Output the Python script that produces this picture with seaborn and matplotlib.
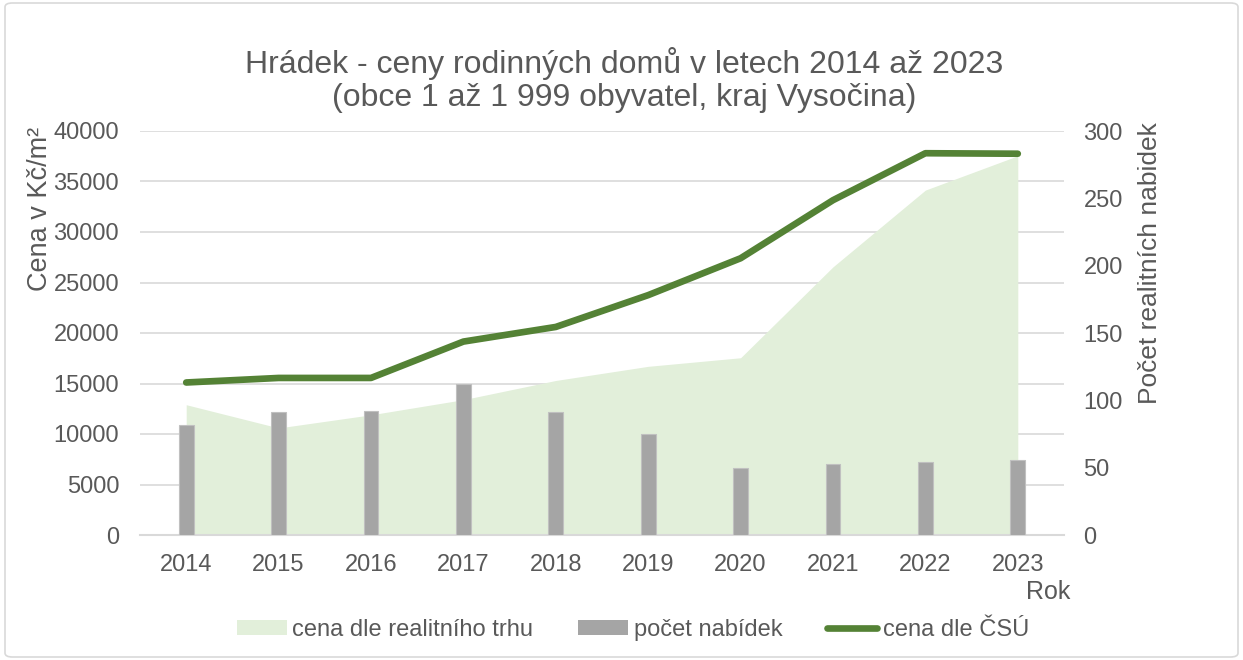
import matplotlib
matplotlib.use("Agg")
import matplotlib.pyplot as plt
from matplotlib.patches import Patch, FancyBboxPatch
from matplotlib.lines import Line2D
import seaborn as sns
import pandas as pd

years = [2014, 2015, 2016, 2017, 2018, 2019, 2020, 2021, 2022, 2023]
cena_trh = [12900, 10600, 11900, 13400, 15300, 16700, 17550, 26550, 34150, 37550]
cena_csu = [15100, 15550, 15550, 19150, 20600, 23750, 27400, 33150, 37800, 37750]
pocet_nabidek = [82, 91, 92, 112, 91, 75, 50, 53, 54, 56]

left_ticks = [0, 5000, 10000, 15000, 20000, 25000, 30000, 35000, 40000]
right_ticks = [0, 50, 100, 150, 200, 250, 300]

df = pd.DataFrame({"rok": years, "trh": cena_trh, "csu": cena_csu, "pocet": pocet_nabidek})

sns.set_theme(style="white")
plt.rcParams["font.family"] = ["Liberation Sans", "DejaVu Sans"]

TXT = "#595959"
AREA = "#e2efda"
BAR = "#a5a5a5"
LINE = "#548235"
GRID = "#d9d9d9"
TICK_FS = 17

fig = plt.figure(figsize=(12.43, 6.6), dpi=100)
ax = fig.add_axes([140 / 1243, 1 - 535 / 660, (1064 - 140) / 1243, (535 - 131) / 660])
ax_bar = ax.twinx()
ax_line = ax.twinx()

# area: market price (left scale)
ax.fill_between(df["rok"], df["trh"], 0, color=AREA, lw=0, zorder=2)
ax.set_ylim(0, 40000)
ax.set_xlim(2013.5, 2023.5)
ax.set_yticks(left_ticks)
ax.set_xticks(years)
ax.grid(axis="y", color=GRID, lw=1.2, zorder=0)
ax.set_axisbelow(True)
for s in ["top", "right", "left"]:
    ax.spines[s].set_visible(False)
ax.spines["bottom"].set_color(GRID)
ax.spines["bottom"].set_linewidth(1.5)
ax.tick_params(axis="y", length=0, pad=15, labelsize=TICK_FS, labelcolor=TXT)
ax.tick_params(axis="x", length=0, pad=14, labelsize=TICK_FS, labelcolor=TXT)
ax.set_xlabel("")
ax.set_ylabel("")

# bars: number of offers (right scale)
sns.barplot(data=df, x="rok", y="pocet", native_scale=True, width=0.16, color=BAR,
            saturation=1, edgecolor="#c0c0c0", linewidth=0.8, ax=ax_bar)
ax_bar.set_ylim(0, 300)
ax_bar.set_yticks(right_ticks)
ax_bar.tick_params(axis="y", length=0, pad=14, labelsize=TICK_FS, labelcolor=TXT)
ax_bar.set_xlim(2013.5, 2023.5)
ax_bar.set_xlabel("")
ax_bar.set_ylabel("")
for s in ax_bar.spines.values():
    s.set_visible(False)

# line: ČSÚ price (left scale)
sns.lineplot(data=df, x="rok", y="csu", color=LINE, lw=4.8, ax=ax_line,
             solid_capstyle="round", solid_joinstyle="round")
ax_line.set_ylim(0, 40000)
ax_line.set_xlim(2013.5, 2023.5)
ax_line.set_yticks([])
ax_line.set_xlabel("")
ax_line.set_ylabel("")
for s in ax_line.spines.values():
    s.set_visible(False)

fig.text(624 / 1243, 1 - 80 / 660,
         "Hrádek - ceny rodinných domů v letech 2014 až 2023\n(obce 1 až 1 999 obyvatel, kraj Vysočina)",
         ha="center", va="center", fontsize=23, color=TXT, linespacing=1.1)
fig.text(40 / 1243, 1 - 127 / 660, "Cena v Kč/m²", rotation=90, ha="center", va="top",
         fontsize=19.5, color=TXT)
fig.text(1150 / 1243, 1 - 122 / 660, "Počet realitních nabidek", rotation=90, ha="center",
         va="top", fontsize=19, color=TXT)
fig.text(1048 / 1243, 1 - 592 / 660, "Rok", ha="center", va="center", fontsize=18, color=TXT)

handles = [
    Patch(facecolor=AREA, edgecolor="none"),
    Patch(facecolor=BAR, edgecolor="none"),
    Line2D([0], [0], color=LINE, lw=4.8, solid_capstyle="round"),
]
labels = ["cena dle realitního trhu", "počet nabídek", "cena dle ČSÚ"]
leg = fig.legend(handles, labels, loc="center", bbox_to_anchor=(633 / 1243, 1 - 630 / 660),
                 ncol=3, frameon=False, fontsize=17, handlelength=2.1, handleheight=0.6,
                 handletextpad=0.25, columnspacing=1.9)
for t in leg.get_texts():
    t.set_color(TXT)

fig.patches.append(FancyBboxPatch((5 / 1243, 3 / 660), 1233 / 1243, 654 / 660,
                                  boxstyle="round,pad=0,rounding_size=0.006",
                                  transform=fig.transFigure, fill=False,
                                  edgecolor=GRID, lw=1.2))

fig.savefig("out.png", dpi=100)
